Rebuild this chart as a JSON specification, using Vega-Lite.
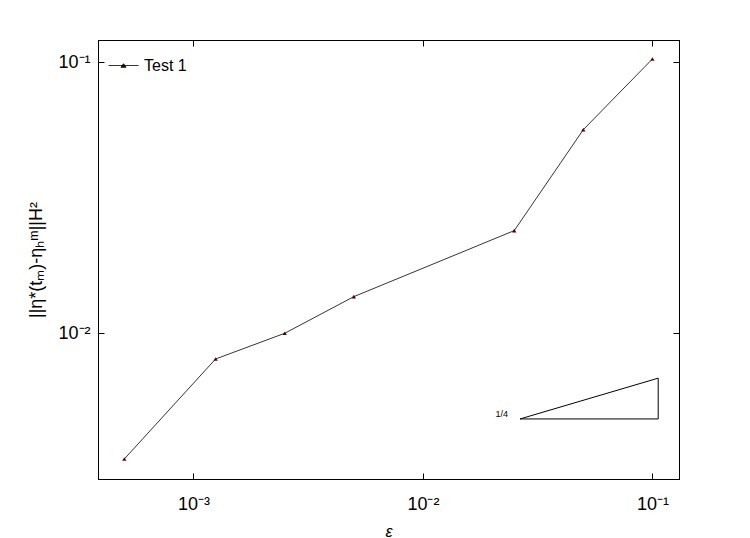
{
  "$schema": "https://vega.github.io/schema/vega-lite/v6.json",
  "width": 581,
  "height": 439,
  "autosize": {"type": "none"},
  "padding": {"left": 98, "top": 40, "right": 71, "bottom": 59},
  "background": "white",
  "config": {
    "view": {"stroke": "black", "strokeWidth": 1},
    "font": "Liberation Sans",
    "axis": {"grid": false, "domainColor": "black", "tickColor": "black", "labelColor": "black", "titleColor": "black", "labelFont": "Liberation Sans", "titleFont": "Liberation Sans"}
  },
  "datasets": {
    "main": [
      {"series": "Test 1", "x": 0.0005, "y": 0.003437},
      {"series": "Test 1", "x": 0.00125, "y": 0.00804},
      {"series": "Test 1", "x": 0.0025, "y": 0.01},
      {"series": "Test 1", "x": 0.005, "y": 0.01365},
      {"series": "Test 1", "x": 0.025, "y": 0.02392},
      {"series": "Test 1", "x": 0.05, "y": 0.0564},
      {"series": "Test 1", "x": 0.1, "y": 0.1028}
    ],
    "tri": [
      {"x": 0.0265, "y": 0.00483, "o": 1},
      {"x": 0.106, "y": 0.00483, "o": 2},
      {"x": 0.106, "y": 0.00683, "o": 3},
      {"x": 0.0265, "y": 0.00483, "o": 4}
    ],
    "lab": [
      {"x": 0.0235, "y": 0.00503, "t": "1/4"}
    ]
  },
  "encoding": {
    "x": {"field": "x", "type": "quantitative", "scale": {"type": "log", "domain": [0.000384, 0.1306], "nice": false}, "axis": null},
    "y": {"field": "y", "type": "quantitative", "scale": {"type": "log", "domain": [0.0029, 0.1208], "nice": false}, "axis": null}
  },
  "resolve": {"axis": {"x": "independent", "y": "independent"}},
  "layer": [
    {
      "data": {"name": "main"},
      "mark": {"type": "line", "strokeWidth": 0.8},
      "encoding": {
        "x": {"field": "x", "type": "quantitative", "scale": {"type": "log", "domain": [0.000384, 0.1306], "nice": false},
          "title": "ε",
          "axis": {"orient": "bottom", "values": [0.001, 0.01, 0.1], "labelExpr": "datum.value < 0.005 ? '10⁻³' : datum.value < 0.05 ? '10⁻²' : '10⁻¹'", "tickSize": -6, "labelPadding": 22, "labelFontSize": 18, "labelBaseline": "top", "titleFontSize": 16, "titleFontStyle": "italic", "titleFontWeight": "normal", "titlePadding": 10, "domain": true}},
        "y": {"field": "y", "type": "quantitative", "scale": {"type": "log", "domain": [0.0029, 0.1208], "nice": false},
          "title": "||η*(tₘ)-ηₕᵐ||H²",
          "axis": {"orient": "left", "values": [0.01, 0.1], "labelExpr": "datum.value < 0.05 ? '10⁻²' : '10⁻¹'", "tickSize": -6, "labelPadding": 14, "labelFontSize": 18, "labelBaseline": "middle", "titleFontSize": 18, "titleFontWeight": "normal", "titlePadding": 12, "domain": true}},
        "color": {"field": "series", "type": "nominal", "scale": {"range": ["black"]},
          "legend": {"orient": "top-left", "title": null, "offset": 10, "padding": 0, "symbolSize": 900, "symbolStrokeWidth": 0.8, "labelFontSize": 16, "labelFont": "Liberation Sans", "labelColor": "black", "labelOffset": 5,
            "encode": {"symbols": {"update": {"shape": {"value": "M-1,0H1M-0.17,0.12L0,-0.12L0.17,0.12Z"}, "fill": {"value": "#400000"}, "stroke": {"value": "black"}}}}}}
      }
    },
    {
      "data": {"name": "main"},
      "mark": {"type": "point", "shape": "triangle-up", "filled": true, "size": 18, "color": "#500000", "opacity": 1}
    },
    {
      "data": {"name": "tri"},
      "mark": {"type": "line", "color": "black", "strokeWidth": 1},
      "encoding": {"order": {"field": "o", "type": "quantitative"}}
    },
    {
      "data": {"name": "lab"},
      "mark": {"type": "text", "align": "right", "baseline": "middle", "fontSize": 9, "font": "Liberation Sans", "fill": "black"},
      "encoding": {"text": {"field": "t", "type": "nominal"}}
    },
    {
      "data": {"name": "main"},
      "mark": {"type": "point", "opacity": 0},
      "encoding": {
        "x": {"field": "x", "type": "quantitative", "scale": {"type": "log", "domain": [0.000384, 0.1306], "nice": false},
          "axis": {"orient": "top", "values": [0.001, 0.01, 0.1], "labels": false, "title": null, "tickSize": -6, "domain": true}},
        "y": {"field": "y", "type": "quantitative", "scale": {"type": "log", "domain": [0.0029, 0.1208], "nice": false},
          "axis": {"orient": "right", "values": [0.01, 0.1], "labels": false, "title": null, "tickSize": -6, "domain": true}}
      }
    }
  ]
}
